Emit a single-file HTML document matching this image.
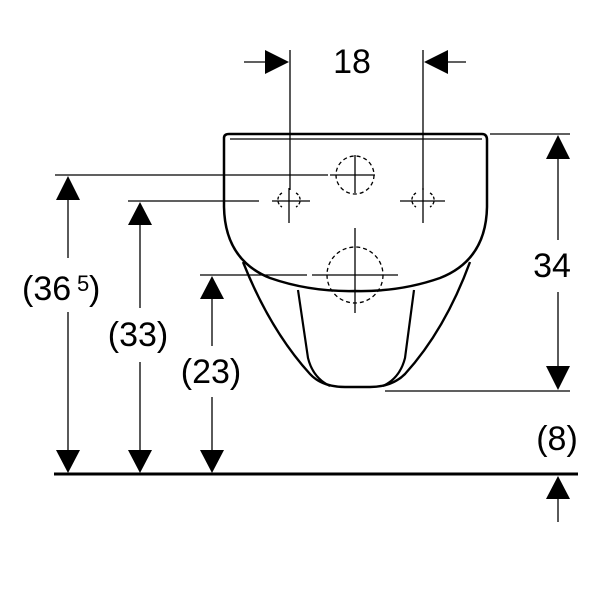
<!DOCTYPE html>
<html><head><style>body{margin:0;background:#fff}svg{display:block}</style></head><body>
<svg width="600" height="600" viewBox="0 0 600 600" xmlns="http://www.w3.org/2000/svg" font-family="Liberation Sans, sans-serif">
<g stroke="#000" fill="none" stroke-width="1.3">
<path d="M224,207 L224,138 Q224,134 229,134 L482,134 Q487,134 487,140 L487,207 Q486,260 440,278 Q400,292 355,291 Q310,292 270,278 Q225,260 224,207 Z" stroke-width="2.5"/>
<line x1="230" y1="139" x2="482" y2="139" stroke-width="1.3"/>
<path d="M243,262 Q270,330 310,374 Q322,387 345,387 L370,387 Q392,387 405,374 Q445,330 470,262" stroke-width="2.4"/>
<path d="M298,290 L308,358 Q313,378 330,386" stroke-width="2.2"/>
<path d="M414,290 L405,358 Q400,378 383,386" stroke-width="2.2"/>
<circle cx="355" cy="175" r="19" stroke-dasharray="4,3"/>
<circle cx="355" cy="275" r="28" stroke-dasharray="4,3"/>
<path d="M282,193 A8,8 0 0,0 282,207 M296,193 A8,8 0 0,1 296,207" stroke-dasharray="3,2"/>
<path d="M416,193 A8,8 0 0,0 416,207 M430,193 A8,8 0 0,1 430,207" stroke-dasharray="3,2"/>
<line x1="330" y1="175" x2="375" y2="175"/><line x1="355" y1="155" x2="355" y2="193"/>
<line x1="272" y1="201" x2="310" y2="201"/><line x1="289" y1="188" x2="289" y2="223"/>
<line x1="400" y1="201" x2="445" y2="201"/><line x1="423" y1="188" x2="423" y2="223"/>
<line x1="312" y1="275" x2="398" y2="275"/><line x1="355" y1="228" x2="355" y2="313"/>
<line x1="55" y1="175" x2="328" y2="175"/>
<line x1="128" y1="201" x2="259" y2="201"/>
<line x1="200" y1="275" x2="307" y2="275"/>
<line x1="290" y1="50" x2="290" y2="190"/>
<line x1="423" y1="50" x2="423" y2="190"/>
<line x1="490" y1="134" x2="570" y2="134"/>
<line x1="385" y1="391" x2="570" y2="391"/>
<line x1="54" y1="474" x2="578" y2="474" stroke-width="3"/>
<line x1="68" y1="190" x2="68" y2="258"/><line x1="68" y1="312" x2="68" y2="460"/>
<line x1="140" y1="215" x2="140" y2="308"/><line x1="140" y1="362" x2="140" y2="460"/>
<line x1="212" y1="290" x2="212" y2="346"/><line x1="212" y1="397" x2="212" y2="460"/>
<line x1="558" y1="150" x2="558" y2="240"/><line x1="558" y1="292" x2="558" y2="375"/>
<line x1="558" y1="490" x2="558" y2="522"/>
<line x1="244" y1="62" x2="266" y2="62"/><line x1="446" y1="62" x2="466" y2="62"/>
</g>
<g fill="#000">
<polygon points="56,200 80,200 68,176"/><polygon points="56,450 80,450 68,473"/>
<polygon points="128,225 152,225 140,202"/><polygon points="128,450 152,450 140,473"/>
<polygon points="200,299 224,299 212,276"/><polygon points="200,450 224,450 212,473"/>
<polygon points="546,159 570,159 558,135"/><polygon points="546,366 570,366 558,390"/>
<polygon points="546,499 570,499 558,476"/>
<polygon points="265,50 265,74 289,62"/><polygon points="448,50 448,74 424,62"/>
</g>
<g font-size="34" fill="#000" text-anchor="middle">
<text x="352" y="73">18</text>
<text x="552" y="277">34</text>
<text x="557" y="450">(8)</text>
<text x="138" y="346">(33)</text>
<text x="211" y="383">(23)</text>
<text x="22" y="300" text-anchor="start">(36</text>
<text x="77" y="291" font-size="22" text-anchor="start">5</text>
<text x="89" y="300" text-anchor="start">)</text>
</g>
</svg>
</body></html>
